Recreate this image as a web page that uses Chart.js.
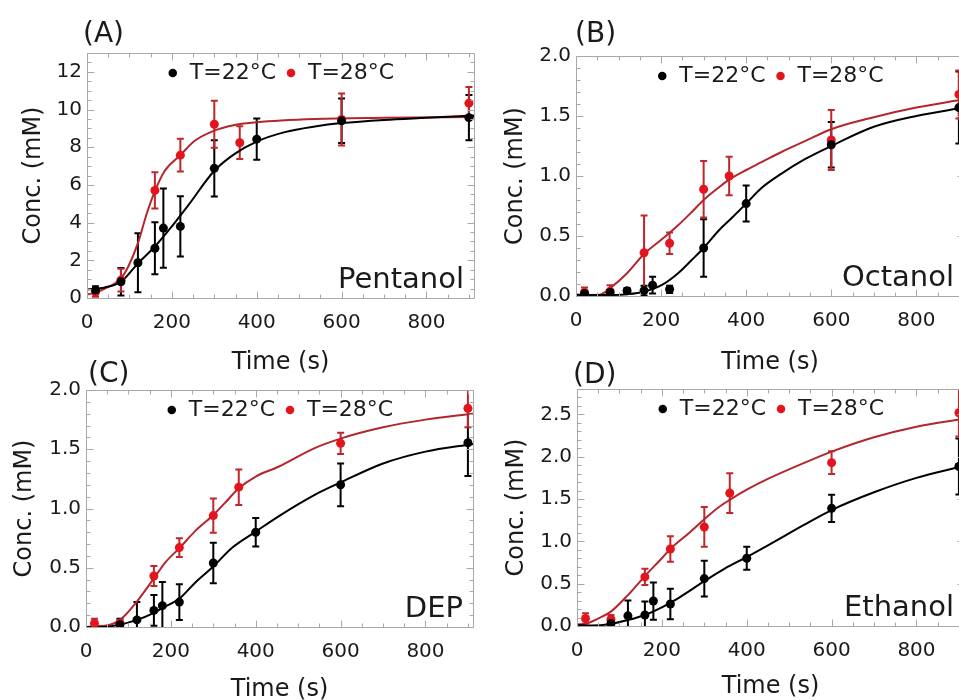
<!DOCTYPE html>
<html>
<head>
<meta charset="utf-8">
<script src="https://cdn.jsdelivr.net/npm/chart.js@4.4.0/dist/chart.umd.min.js"></script>
<style>
  body { margin: 0; background: white; width: 959px; height: 700px; overflow: hidden; position: relative; }
  canvas { position: absolute; }
</style>
</head>
<body>
<canvas id="chart_a" width="480" height="375" style="left:0px;top:0px"></canvas>
<canvas id="chart_b" width="500" height="375" style="left:480px;top:0px"></canvas>
<canvas id="chart_c" width="480" height="375" style="left:0px;top:330px"></canvas>
<canvas id="chart_d" width="500" height="375" style="left:480px;top:330px"></canvas>
<script>
// ---- measured points (time in s, conc. in mM, +/- error) ----
const timeA22 = [20, 80, 120, 160, 180, 220, 300, 400, 600, 900]
const concA22 = [0.42, 0.86, 1.87, 2.64, 3.71, 3.8, 6.88, 8.43, 9.4, 9.57]
const errA22 = [0.2, 0.73, 1.56, 1.38, 2.1, 1.6, 1.49, 1.1, 1.18, 1.2]
const timeA28 = [20, 80, 160, 220, 300, 360, 600, 900]
const concA28 = [0.32, 0.95, 5.71, 7.58, 9.22, 8.24, 9.47, 10.34]
const errA28 = [0.25, 0.6, 0.96, 0.87, 1.25, 0.87, 1.38, 0.85]

const timeB22 = [20, 80, 120, 160, 180, 220, 300, 400, 600, 900]
const concB22 = [0.02, 0.03, 0.044, 0.045, 0.09, 0.056, 0.40, 0.77, 1.26, 1.57]
const errB22 = [0.02, 0.02, 0.02, 0.04, 0.07, 0.03, 0.24, 0.15, 0.19, 0.3]
const timeB28 = [20, 80, 160, 220, 300, 360, 600, 900]
const concB28 = [0.03, 0.04, 0.36, 0.44, 0.89, 1.0, 1.3, 1.68]
const errB28 = [0.04, 0.05, 0.31, 0.09, 0.235, 0.16, 0.25, 0.2]

const timeC22 = [80, 120, 160, 180, 220, 300, 400, 600, 900]
const concC22 = [0.02, 0.06, 0.14, 0.18, 0.21, 0.54, 0.80, 1.20, 1.555]
const errC22 = [0.05, 0.15, 0.13, 0.2, 0.15, 0.17, 0.12, 0.18, 0.28]
const timeC28 = [20, 80, 160, 220, 300, 360, 600, 900]
const concC28 = [0.03, 0.03, 0.43, 0.67, 0.94, 1.18, 1.55, 1.845]
const errC28 = [0.04, 0.03, 0.085, 0.08, 0.145, 0.15, 0.09, 0.16]

const timeD22 = [80, 120, 160, 180, 220, 300, 400, 600, 900]
const concD22 = [0.03, 0.12, 0.13, 0.295, 0.26, 0.56, 0.80, 1.39, 1.885]
const errD22 = [0.03, 0.18, 0.16, 0.22, 0.18, 0.21, 0.135, 0.16, 0.33]
const timeD28 = [20, 80, 160, 220, 300, 360, 600, 900]
const concD28 = [0.09, 0.08, 0.58, 0.91, 1.17, 1.57, 1.93, 2.52]
const errD28 = [0.06, 0.05, 0.095, 0.15, 0.235, 0.235, 0.135, 0.28]

// ---- fitted curves ----
const fitTimeA22 = [0, 42, 80, 120, 160, 200, 238, 300, 348, 400, 466, 537, 600, 700, 800, 912]
const fitA22 = [0.45, 0.56, 0.86, 1.84, 2.73, 3.8, 4.9, 6.75, 7.65, 8.3, 8.8, 9.1, 9.28, 9.45, 9.56, 9.68]
const fitTimeA28 = [0, 20, 42, 80, 97, 120, 140, 160, 183, 220, 254, 300, 348, 400, 537, 700, 912]
const fitA28 = [0.18, 0.3, 0.5, 1.04, 1.66, 2.91, 4.42, 5.67, 6.74, 7.58, 8.34, 8.88, 9.18, 9.33, 9.5, 9.56, 9.6]

const fitTimeB22 = [0, 80, 120, 160, 201, 240, 272, 300, 334, 366, 400, 436, 483, 538, 600, 700, 800, 912]
const fitB22 = [0.01, 0.008, 0.015, 0.036, 0.09, 0.19, 0.3, 0.4, 0.54, 0.65, 0.77, 0.9, 1.02, 1.14, 1.25, 1.41, 1.5, 1.57]
const fitTimeB28 = [0, 37, 60, 80, 120, 160, 201, 240, 272, 300, 334, 360, 400, 436, 483, 538, 600, 700, 800, 912]
const fitB28 = [0.01, 0.005, 0.015, 0.064, 0.19, 0.35, 0.47, 0.59, 0.70, 0.80, 0.9, 0.97, 1.05, 1.115, 1.2, 1.29, 1.39, 1.49, 1.57, 1.64]

const fitTimeC22 = [0, 37, 80, 120, 160, 180, 220, 256, 300, 343, 400, 452, 539, 600, 700, 800, 912]
const fitC22 = [0, 0, 0.02, 0.06, 0.12, 0.16, 0.24, 0.37, 0.51, 0.665, 0.805, 0.93, 1.115, 1.22, 1.38, 1.48, 1.545]
const fitTimeC28 = [0, 17, 44, 80, 120, 160, 188, 220, 256, 300, 327, 360, 400, 452, 539, 600, 700, 800, 912]
const fitC28 = [0, 0.005, 0.01, 0.06, 0.215, 0.41, 0.55, 0.665, 0.805, 0.945, 1.045, 1.17, 1.27, 1.35, 1.51, 1.59, 1.685, 1.75, 1.80]

const fitTimeD22 = [0, 35, 80, 120, 160, 200, 239, 302, 349, 400, 451, 537, 600, 700, 800, 912]
const fitD22 = [0.01, 0.005, 0.025, 0.07, 0.13, 0.22, 0.33, 0.535, 0.68, 0.815, 0.955, 1.2, 1.37, 1.58, 1.75, 1.89]
const fitTimeD28 = [0, 19, 51, 80, 120, 160, 200, 221, 262, 302, 333, 360, 400, 451, 537, 600, 700, 800, 912]
const fitD28 = [0.02, 0.025, 0.09, 0.17, 0.365, 0.59, 0.80, 0.915, 1.09, 1.27, 1.4, 1.49, 1.61, 1.74, 1.93, 2.06, 2.23, 2.355, 2.45]

const X_TICKS = [0, 200, 400, 600, 800]
const LEGEND_LABELS = ['T=22\u00B0C', 'T=28\u00B0C']

const FONT = 'DejaVu Sans'
const BLACK = '#000000'
const RED_POINT = '#e3141b'
const RED_ERR = '#c0262b'
const RED_CURVE = '#b3262e'
const FRAME = '#a8a8a8'
const TEXT = '#1a1a1a'

const toPoints = (xs, ys) => xs.map((x, i) => ({x: x, y: ys[i]}))

// Draws error bars (under the points), the Mathematica-like frame with
// inward ticks on all four sides, the panel letter and the compound name
const panelPlugin = {
  id: 'panel',
  beforeLayout(chart) {
    // lay the in-frame legend out as one row instead of a column
    if (chart.legend) chart.legend.isHorizontal = () => true
  },
  afterLayout(chart) {
    // a row legend gets left = 0, move it over the plot area
    const lg = chart.legend
    if (!lg) return
    const w = lg.right - lg.left
    lg.left = chart.chartArea.left
    lg.right = lg.left + w
  },
  beforeDatasetsDraw(chart) {
    const ctx = chart.ctx
    const xs = chart.scales.x
    const ys = chart.scales.y
    const a = chart.chartArea
    ctx.save()
    ctx.beginPath()
    ctx.rect(a.left, a.top, a.right - a.left, a.bottom - a.top)
    ctx.clip()
    chart.data.datasets.forEach(ds => {
      if (!ds.errors) return
      ctx.strokeStyle = ds.errorColor
      ctx.lineWidth = 2
      ds.data.forEach((p, i) => {
        const px = xs.getPixelForValue(p.x)
        const y0 = ys.getPixelForValue(p.y - ds.errors[i])
        const y1 = ys.getPixelForValue(p.y + ds.errors[i])
        ctx.beginPath()
        ctx.moveTo(px, y0); ctx.lineTo(px, y1)
        ctx.moveTo(px - 3.5, y0); ctx.lineTo(px + 3.5, y0)
        ctx.moveTo(px - 3.5, y1); ctx.lineTo(px + 3.5, y1)
        ctx.stroke()
      })
    })
    ctx.restore()
  },
  afterDraw(chart, args, opts) {
    const ctx = chart.ctx
    const xs = chart.scales.x
    const ys = chart.scales.y
    const a = chart.chartArea
    const l = Math.round(a.left) + 0.5, r = Math.round(a.right) + 0.5
    const t = Math.round(a.top) + 0.5, b = Math.round(a.bottom) + 0.5
    ctx.save()
    ctx.strokeStyle = FRAME
    ctx.lineWidth = 1
    ctx.beginPath()
    ctx.rect(l, t, r - l, b - t)
    // x ticks every 50 s, long ones every 200 s
    for (let i = 0; i * 50 <= xs.max; i++) {
      const px = Math.round(xs.getPixelForValue(i * 50)) + 0.5
      const len = i % 4 === 0 ? 7 : 4
      ctx.moveTo(px, b); ctx.lineTo(px, b - len)
      ctx.moveTo(px, t); ctx.lineTo(px, t + len)
    }
    for (let i = 0; i * opts.yMinor <= ys.max + 1e-9; i++) {
      const py = Math.round(ys.getPixelForValue(i * opts.yMinor)) + 0.5
      const len = i % opts.perMajor === 0 ? 7 : 4
      ctx.moveTo(l, py); ctx.lineTo(l + len, py)
      ctx.moveTo(r, py); ctx.lineTo(r - len, py)
    }
    ctx.stroke()

    ctx.fillStyle = TEXT
    ctx.font = `28px "${FONT}"`
    ctx.textAlign = 'left'
    ctx.textBaseline = 'alphabetic'
    ctx.fillText(opts.letter, a.left + opts.letterDx, a.top + opts.letterDy)
    ctx.font = `29px "${FONT}"`
    ctx.textAlign = 'right'
    ctx.fillText(opts.name, a.right - 10, a.bottom - 10)
    ctx.restore()
  }
}

function makePanel(id, p) {
  const canvas = document.getElementById(id)
  const W = canvas.width, H = canvas.height
  return new Chart(canvas, {
    type: 'scatter',
    data: {
      datasets: [
        {label: LEGEND_LABELS[0], data: toPoints(p.t22, p.c22), errors: p.e22, errorColor: BLACK,
         backgroundColor: BLACK, borderColor: BLACK, pointRadius: 4.5, pointBorderWidth: 0, borderWidth: 0},
        {label: LEGEND_LABELS[1], data: toPoints(p.t28, p.c28), errors: p.e28, errorColor: RED_ERR,
         backgroundColor: RED_POINT, borderColor: RED_POINT, pointRadius: 4.5, pointBorderWidth: 0, borderWidth: 0},
        {label: 'fit22', data: toPoints(p.ft22, p.f22), showLine: true, pointRadius: 0,
         borderColor: BLACK, borderWidth: 2, cubicInterpolationMode: 'monotone'},
        {label: 'fit28', data: toPoints(p.ft28, p.f28), showLine: true, pointRadius: 0,
         borderColor: RED_CURVE, borderWidth: 2, cubicInterpolationMode: 'monotone'}
      ]
    },
    options: {
      responsive: false,
      animation: false,
      events: [],
      layout: {padding: {left: 0, top: p.area.t, right: W - p.area.r, bottom: 0}},
      scales: {
        x: {
          type: 'linear', min: 0, max: 912,
          afterFit: s => { s.height = H - p.area.b },
          afterBuildTicks: s => { s.ticks = X_TICKS.map(v => ({value: v})) },
          grid: {display: false, drawTicks: false}, border: {display: false},
          ticks: {color: TEXT, padding: 13, font: {family: FONT, size: 20}},
          title: {display: true, text: 'Time (s)', color: TEXT, font: {family: FONT, size: 24},
                  padding: {top: 0, bottom: p.xTitlePad}}
        },
        y: {
          type: 'linear', min: 0, max: p.yMax,
          afterFit: s => { s.width = p.area.l },
          afterBuildTicks: s => { s.ticks = p.yTicks.map(v => ({value: v})) },
          grid: {display: false, drawTicks: false}, border: {display: false},
          ticks: {color: TEXT, padding: 5, font: {family: FONT, size: 20},
                  callback: v => v.toFixed(p.digits)},
          title: {display: true, text: 'Conc. (mM)', color: TEXT, font: {family: FONT, size: 24},
                  padding: {top: p.yTitlePad, bottom: 0}}
        }
      },
      plugins: {
        tooltip: {enabled: false},
        legend: {
          position: 'chartArea', align: 'center',
          labels: {usePointStyle: true, pointStyle: 'circle', boxWidth: 12, boxHeight: 6, padding: 9,
                   color: TEXT, font: {family: FONT, size: 22},
                   filter: item => item.datasetIndex < 2}
        },
        panel: {letter: p.letter, name: p.name, letterDx: p.letterDx, letterDy: p.letterDy,
                yMinor: p.yMinor, perMajor: p.perMajor}
      }
    },
    plugins: [panelPlugin]
  })
}

makePanel('chart_a', {
  letter: '(A)', name: 'Pentanol', letterDx: -4, letterDy: -11,
  area: {l: 87, t: 53, r: 474, b: 298}, yMax: 13, yTicks: [0, 2, 4, 6, 8, 10, 12], digits: 0,
  yMinor: 0.5, perMajor: 4, yTitlePad: 19, xTitlePad: -2,
  t22: timeA22, c22: concA22, e22: errA22, t28: timeA28, c28: concA28, e28: errA28,
  ft22: fitTimeA22, f22: fitA22, ft28: fitTimeA28, f28: fitA28
})
makePanel('chart_b', {
  letter: '(B)', name: 'Octanol', letterDx: -1, letterDy: -14,
  area: {l: 96, t: 56, r: 484, b: 296}, yMax: 2, yTicks: [0, 0.5, 1, 1.5, 2], digits: 1,
  yMinor: 0.1, perMajor: 5, yTitlePad: 21, xTitlePad: -2,
  t22: timeB22, c22: concB22, e22: errB22, t28: timeB28, c28: concB28, e28: errB28,
  ft22: fitTimeB22, f22: fitB22, ft28: fitTimeB28, f28: fitB28
})
makePanel('chart_c', {
  letter: '(C)', name: 'DEP', letterDx: 2, letterDy: -8,
  area: {l: 86, t: 60, r: 473, b: 297}, yMax: 2, yTicks: [0, 0.5, 1, 1.5, 2], digits: 1,
  yMinor: 0.1, perMajor: 5, yTitlePad: 10, xTitlePad: 1,
  t22: timeC22, c22: concC22, e22: errC22, t28: timeC28, c28: concC28, e28: errC28,
  ft22: fitTimeC22, f22: fitC22, ft28: fitTimeC28, f28: fitC28
})
makePanel('chart_d', {
  letter: '(D)', name: 'Ethanol', letterDx: -4, letterDy: -6,
  area: {l: 97, t: 59, r: 484, b: 296}, yMax: 2.8, yTicks: [0, 0.5, 1, 1.5, 2, 2.5], digits: 1,
  yMinor: 0.1, perMajor: 5, yTitlePad: 22, xTitlePad: 4,
  t22: timeD22, c22: concD22, e22: errD22, t28: timeD28, c28: concD28, e28: errD28,
  ft22: fitTimeD22, f22: fitD22, ft28: fitTimeD28, f28: fitD28
})
</script>
</body>
</html>
